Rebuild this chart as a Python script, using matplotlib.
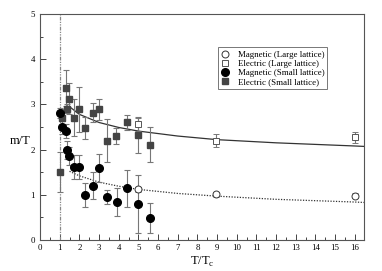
import matplotlib
matplotlib.use("Agg")
import matplotlib.pyplot as plt
from matplotlib.ticker import MultipleLocator

plt.rcParams['font.family'] = ['Liberation Serif', 'DejaVu Serif']

# Magnetic (Large lattice)
mag_L_x = [4.97, 8.95, 16.0]
mag_L_y = [1.12, 1.01, 0.98]
mag_L_e = [0.05, 0.05, 0.05]
# Electric (Large lattice)
ele_L_x = [4.97, 8.95, 16.0]
ele_L_y = [2.56, 2.20, 2.27]
ele_L_e = [0.15, 0.14, 0.12]
# Magnetic (Small lattice)
mag_S_x = [1.01, 1.10, 1.32, 1.37, 1.49, 1.72, 2.0, 2.28, 2.67, 3.0, 3.40, 3.89, 4.40, 4.97, 5.6]
mag_S_y = [2.81, 2.49, 2.41, 1.99, 1.86, 1.62, 1.62, 0.99, 1.20, 1.59, 0.95, 0.84, 1.14, 0.80, 0.48]
mag_S_e = [0.10, 0.15, 0.15, 0.20, 0.20, 0.27, 0.27, 0.27, 0.30, 0.31, 0.16, 0.32, 0.41, 0.64, 0.33]
# Electric (Small lattice)
ele_S_x = [1.03, 1.13, 1.32, 1.35, 1.49, 1.72, 2.0, 2.28, 2.67, 3.0, 3.40, 3.87, 4.40, 4.97, 5.6]
ele_S_y = [1.50, 2.70, 3.36, 2.90, 3.13, 2.71, 2.89, 2.48, 2.82, 2.89, 2.20, 2.30, 2.60, 2.32, 2.11]
ele_S_e = [0.44, 0.20, 0.40, 0.10, 0.35, 0.40, 0.50, 0.25, 0.22, 0.24, 0.47, 0.18, 0.17, 0.40, 0.39]

# Curves
cur_e_x = [1.5, 2, 3, 4, 5, 7, 9, 12, 16, 16.5]
cur_e_y = [2.95, 2.78, 2.60, 2.49, 2.41, 2.30, 2.22, 2.15, 2.08, 2.07]
cur_m_x = [1.5, 2, 3, 4, 5, 7, 9, 12, 16, 16.5]
cur_m_y = [1.52, 1.42, 1.28, 1.19, 1.12, 1.03, 0.97, 0.90, 0.84, 0.83]

fig = plt.figure(figsize=(3.82, 2.71), dpi=100)
ax = fig.add_axes([40/382, 1-240/271, 324/382, 226/271])

ax.plot([1, 1], [0, 5], color='#888888', lw=0.9, linestyle=(0, (3, 1, 1, 1, 1, 1)))
ax.plot(cur_e_x, cur_e_y, color='#333333', lw=0.9)
ax.plot(cur_m_x, cur_m_y, color='#333333', lw=0.9, linestyle=(0, (1, 1.2)))

ekw = dict(capsize=2, elinewidth=0.8, capthick=0.8, ecolor='#777777', linestyle='none')
ax.errorbar(ele_S_x, ele_S_y, yerr=ele_S_e, marker='s', ms=4.5, mfc='#444444', mec='#444444',
            label='Electric (Small lattice)', **ekw)
ax.errorbar(mag_S_x, mag_S_y, yerr=mag_S_e, marker='o', ms=5.5, mfc='black', mec='black',
            label='Magnetic (Small lattice)', **ekw)
ax.errorbar(ele_L_x, ele_L_y, yerr=ele_L_e, marker='s', ms=4.5, mfc='white', mec='#555555', mew=0.7,
            label='Electric (Large lattice)', **ekw)
ax.errorbar(mag_L_x, mag_L_y, yerr=mag_L_e, marker='o', ms=5, mfc='white', mec='#333333', mew=0.7,
            label='Magnetic (Large lattice)', **ekw)

ax.set_xlim(0, 16.47)
ax.set_ylim(0, 5)
ax.xaxis.set_major_locator(MultipleLocator(1))
ax.xaxis.set_minor_locator(MultipleLocator(0.5))
ax.yaxis.set_major_locator(MultipleLocator(1))
ax.yaxis.set_minor_locator(MultipleLocator(0.5))
ax.tick_params(which='both', direction='in', labelsize=6.3, color='#444444', width=0.7)
ax.tick_params(which='major', length=4)
ax.tick_params(which='minor', length=2)
ax.tick_params(axis='x', pad=3)
for s in ax.spines.values():
    s.set_color('#555555')
    s.set_linewidth(0.8)

ax.text(-0.06, 0.44, 'm/T', transform=ax.transAxes, ha='center', va='center', fontsize=9)
ax.set_xlabel(r'T/T$_\mathregular{c}$', fontsize=9, labelpad=2)

handles, labels = ax.get_legend_handles_labels()
order = [3, 2, 1, 0]
leg = ax.legend([handles[i][0] for i in order], [labels[i] for i in order],
                loc='upper left', bbox_to_anchor=((217.7-40)/324, 1-(47.3-14)/226),
                fontsize=6.4, frameon=True, fancybox=False, handlelength=1.0,
                borderpad=0.35, labelspacing=0.1, handletextpad=0.9, borderaxespad=0)
leg.get_frame().set_edgecolor('#555555')
leg.get_frame().set_linewidth(0.7)

fig.savefig('out.png', dpi=100)
